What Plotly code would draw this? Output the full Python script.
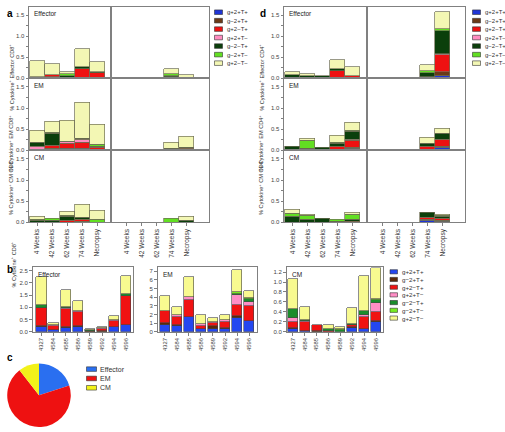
import plotly.graph_objects as go

W, H = 505, 432
FONT = "Liberation Sans, Arial, sans-serif"


def fx(p):
    return p / W


def fy(p):
    return 1 - p / H


TIMEPOINTS = ["4 Weeks", "42 Weeks", "62 Weeks", "74 Weeks", "Necropsy"]
ANIMALS = ["4327", "4584", "4585", "4586", "4589", "4592", "4594", "4596"]
SERIES = ["g+2+T+", "g−2+T+", "g+2−T+", "g+2+T−", "g−2−T+", "g−2+T−", "g+2−T−"]
COLORS_AD = ["#1f35d6", "#6b3a17", "#ee1111", "#ff8cc0", "#0b3f0b", "#62df22", "#f3f7b4"]
COLORS_B = ["#2447f0", "#5a2a0a", "#f01212", "#ff8ec6", "#1b8c2c", "#76ec22", "#f8fa90"]
PIE_LABELS = ["Effector", "EM", "CM"]
PIE_VALUES = [20, 69.5, 10.5]
PIE_COLORS = ["#2a6ff0", "#ee1111", "#f2f21a"]
AD_YTICKS = [0, 0.25, 0.5, 0.75, 1.0, 1.25, 1.5]
AD_YLABELS = [0, 0.5, 1.0, 1.5]

# ---- panel a (CD8), rows = series order, cols = timepoints ----
A_EFF_L = [[0, 0, 0, 0.02, 0.02], [0.01, 0.03, 0, 0, 0], [0.02, 0.05, 0, 0.21, 0.12], [0, 0, 0, 0, 0],
           [0, 0.01, 0.07, 0.04, 0.02], [0, 0, 0.04, 0, 0], [0.39, 0.26, 0.05, 0.43, 0.24]]
A_EFF_R = [[0, 0, 0, 0, 0], [0, 0, 0, 0, 0], [0, 0, 0, 0.03, 0], [0, 0, 0, 0, 0],
           [0, 0, 0, 0.04, 0.01], [0, 0, 0, 0.03, 0], [0, 0, 0, 0.13, 0.08]]
A_EM_L = [[0, 0, 0.04, 0.04, 0], [0.01, 0.04, 0, 0, 0.02], [0.01, 0.07, 0.12, 0.16, 0.04], [0.08, 0, 0.05, 0.07, 0],
          [0.09, 0.29, 0.01, 0.02, 0.03], [0, 0.03, 0, 0, 0.04], [0.29, 0.25, 0.50, 0.84, 0.49]]
A_EM_R = [[0, 0, 0, 0, 0], [0, 0, 0, 0.01, 0.01], [0, 0, 0, 0, 0.04], [0, 0, 0, 0, 0],
          [0, 0, 0, 0.03, 0.03], [0, 0, 0, 0, 0], [0, 0, 0, 0.15, 0.24]]
A_CM_L = [[0, 0, 0, 0, 0], [0.01, 0, 0.01, 0.02, 0], [0, 0, 0.04, 0.04, 0], [0, 0, 0, 0, 0],
          [0.04, 0.04, 0.09, 0.06, 0.01], [0.02, 0.06, 0.02, 0, 0.05], [0.07, 0, 0.10, 0.31, 0.22]]
A_CM_R = [[0, 0, 0, 0, 0], [0, 0, 0, 0, 0], [0, 0, 0, 0, 0], [0, 0, 0, 0, 0],
          [0, 0, 0, 0, 0.05], [0, 0, 0, 0.10, 0], [0, 0, 0, 0, 0.09]]

# ---- panel d (CD4) ----
D_EFF_L = [[0, 0, 0, 0.01, 0], [0, 0, 0, 0, 0], [0.02, 0, 0, 0.17, 0.05], [0, 0, 0, 0, 0],
           [0.06, 0.05, 0.065, 0.05, 0], [0, 0, 0, 0, 0], [0.07, 0.05, 0, 0.22, 0.22]]
D_EFF_R = [[0, 0, 0, 0, 0.07], [0, 0, 0, 0, 0.08], [0, 0, 0, 0.04, 0.42], [0, 0, 0, 0, 0.02],
           [0, 0, 0, 0.08, 0.53], [0, 0, 0, 0.07, 0.05], [0, 0, 0, 0.14, 0.40]]
D_EM_L = [[0, 0, 0, 0.01, 0.05], [0, 0, 0, 0, 0.03], [0, 0, 0, 0.09, 0.15], [0, 0, 0, 0, 0.03],
          [0.09, 0.04, 0.06, 0.07, 0.20], [0, 0.20, 0, 0.02, 0.02], [0, 0.04, 0, 0.17, 0.17]]
D_EM_R = [[0, 0, 0, 0, 0.08], [0, 0, 0, 0.02, 0.02], [0, 0, 0, 0.07, 0.15], [0, 0, 0, 0, 0],
          [0, 0, 0, 0.08, 0.15], [0, 0, 0, 0, 0], [0, 0, 0, 0.13, 0.13]]
D_CM_L = [[0, 0, 0, 0, 0], [0, 0, 0, 0, 0], [0, 0, 0, 0, 0.02], [0, 0, 0, 0, 0],
          [0.14, 0.06, 0.09, 0.02, 0.06], [0.08, 0.11, 0, 0.04, 0.10], [0.08, 0.03, 0, 0, 0.06]]
D_CM_R = [[0, 0, 0, 0.05, 0.03], [0, 0, 0, 0.02, 0.02], [0, 0, 0, 0.05, 0.04], [0, 0, 0, 0, 0],
          [0, 0, 0, 0.11, 0.05], [0, 0, 0, 0, 0.02], [0, 0, 0, 0, 0.04]]

# ---- panel b (per animal, CD8) ----
B_EFF = [[0.20, 0.05, 0.15, 0.20, 0, 0, 0.17, 0.25], [0.03, 0.02, 0.02, 0.02, 0.02, 0.01, 0, 0.02],
         [0.72, 0.15, 0.75, 0.60, 0, 0.10, 0.28, 1.18], [0.02, 0.03, 0.05, 0.01, 0, 0.03, 0.02, 0],
         [0.13, 0, 0.03, 0.02, 0.06, 0, 0, 0.08], [0, 0, 0, 0, 0, 0, 0, 0.03],
         [1.14, 0.09, 0.70, 0.41, 0.02, 0.06, 0.16, 0.73]]
B_EM = [[0.80, 0.70, 1.65, 0.30, 0.30, 0.35, 1.60, 1.25], [0.15, 0.05, 0, 0.05, 0.40, 0.10, 0.20, 0],
        [1.40, 0.95, 2.00, 0.30, 0.30, 0.65, 1.25, 1.70], [0, 0.25, 0.40, 0.20, 0.15, 0.20, 1.15, 0.45],
        [0.05, 0, 0, 0, 0, 0, 0.20, 0.35], [0, 0, 0, 0, 0, 0, 0.15, 0.10],
        [1.74, 0.92, 2.31, 1.10, 0.46, 0.62, 2.65, 0.86]]
B_CM = [[0.05, 0.01, 0, 0, 0, 0.07, 0.05, 0.20], [0.02, 0.01, 0.02, 0, 0, 0.02, 0, 0.02],
        [0.13, 0.17, 0.12, 0.01, 0, 0.05, 0.25, 0.18], [0.07, 0.02, 0, 0, 0, 0, 0.03, 0.18],
        [0.19, 0.03, 0, 0.04, 0.04, 0.02, 0.08, 0.06], [0, 0, 0, 0, 0.02, 0, 0, 0.02],
        [0.59, 0.26, 0, 0.08, 0.03, 0.31, 0.71, 0.62]]

fig = go.Figure()
layout_axes = {}
counter = [0]
LINE = dict(showline=True, linecolor="#808080", linewidth=1, mirror=True,
            zeroline=False, showgrid=False)
TICKFONT = dict(family=FONT, size=6, color="#444")


def new_axes(xpx, ypx, cats, xrange, yrange, xcfg, ycfg):
    counter[0] += 1
    n = counter[0]
    s = "" if n == 1 else str(n)
    layout_axes["xaxis" + s] = dict(domain=[fx(xpx[0]), fx(xpx[1])], range=xrange, anchor="y" + s,
                                    type="category", categoryorder="array", categoryarray=cats,
                                    fixedrange=True, **LINE, **xcfg)
    layout_axes["yaxis" + s] = dict(domain=[fy(ypx[1]), fy(ypx[0])], range=yrange, anchor="x" + s,
                                    fixedrange=True, **LINE, **ycfg)
    return "x" + s, "y" + s


def add_stack(xa, ya, cats, data, colors, width, lcolor, lwidth):
    for name, vals, col in zip(SERIES, data, colors):
        fig.add_trace(go.Bar(x=cats, y=[v if v else None for v in vals], name=name, xaxis=xa, yaxis=ya,
                             width=width, marker=dict(color=col, line=dict(color=lcolor, width=lwidth)),
                             showlegend=False))


NOX = dict(showticklabels=False, ticks="")
BOTX = dict(ticks="outside", ticklen=3, tickcolor="#808080", tickangle=-90,
            tickfont=dict(family=FONT, size=6.5, color="#333"))
YAD = dict(ticks="outside", ticklen=2.5, tickcolor="#808080", tickvals=AD_YTICKS, showticklabels=False)
NOY = dict(showticklabels=False, ticks="")

ROWS_PX = [(7, 79), (79, 151.5), (151.5, 224)]
ROW_NAMES = ["Effector", "EM", "CM"]
annotations = []
shapes = []


def ad_panel(left, mid, right, data_rows, cell, first_center):
    for r, ((y0, y1), (dl, dr)) in enumerate(zip(ROWS_PX, data_rows)):
        xc = BOTX if r == 2 else NOX
        x_start = (left - first_center) / cell
        xr1 = [x_start, x_start + (mid - left) / cell]
        xa, ya = new_axes((left, mid), (y0, y1), TIMEPOINTS, xr1, [0, 1.7], xc, YAD)
        add_stack(xa, ya, TIMEPOINTS, dl, COLORS_AD, 1.0, "#6f6f55", 0.7)
        # y tick labels placed on the axis scale
        for v in AD_YLABELS:
            annotations.append(dict(x=fx(left - 3.5), y=v, xref="paper", yref=ya, text=f"{v:.1f}",
                                    showarrow=False, xanchor="right", yanchor="middle", borderpad=0,
                                    font=TICKFONT))
        xr2 = [-1.05, -1.05 + (right - mid) / cell]
        xa, ya = new_axes((mid, right), (y0, y1), TIMEPOINTS, xr2, [0, 1.7], xc, NOY)
        add_stack(xa, ya, TIMEPOINTS, dr, COLORS_AD, 1.0, "#6f6f55", 0.7)
        annotations.append(dict(x=fx(left + 3), y=fy(y0 + 1.5), xref="paper", yref="paper", text=ROW_NAMES[r],
                                showarrow=False, xanchor="left", yanchor="top",
                                font=dict(family=FONT, size=6.5, color="#222")))


ad_panel(29, 111, 209, [(A_EFF_L, A_EFF_R), (A_EM_L, A_EM_R), (A_CM_L, A_CM_R)], 15, 37)
ad_panel(284, 367, 465, [(D_EFF_L, D_EFF_R), (D_EM_L, D_EM_R), (D_CM_L, D_CM_R)], 15, 292.5)

# y titles a / d
for (y0, y1), nm in zip(ROWS_PX, ROW_NAMES):
    for xpos, cd in ((15, "CD8"), (265, "CD4")):
        annotations.append(dict(x=fx(xpos), y=fy((y0 + y1) / 2), xref="paper", yref="paper",
                                text=f"% Cytokine<sup>+</sup> {nm} {cd}<sup>+</sup>", textangle=-90,
                                xanchor="right", showarrow=False, borderpad=0,
                                font=dict(family=FONT, size=5.6, color="#333")))

# ---- panel b ----
BX = dict(ticks="outside", ticklen=3, tickcolor="#808080", tickangle=-90,
          tickfont=dict(family=FONT, size=5.8, color="#333"))
xa, ya = new_axes((33, 133), (269, 334), ANIMALS, [-0.7, 7.55], [0, 2.65], BX,
                  dict(ticks="outside", ticklen=3, tickcolor="#808080", tickvals=[0, 0.5, 1, 1.5, 2, 2.5],
                       ticktext=["0.0", "0.5", "1.0", "1.5", "2.0", "2.5"], tickfont=TICKFONT))
add_stack(xa, ya, ANIMALS, B_EFF, COLORS_B, 0.85, "#444", 0.6)
xa, ya = new_axes((158, 257), (269, 334), ANIMALS, [-0.56, 7.65], [0, 7.49], BX,
                  dict(ticks="outside", ticklen=3, tickcolor="#808080", dtick=1, tickfont=TICKFONT))
add_stack(xa, ya, ANIMALS, B_EM, COLORS_B, 0.85, "#444", 0.6)
xa, ya = new_axes((287, 383), (269, 334), ANIMALS, [-0.48, 7.57], [0, 1.3], BX,
                  dict(ticks="outside", ticklen=3, tickcolor="#808080", tickvals=[0, 0.2, 0.4, 0.6, 0.8, 1.0, 1.2],
                       ticktext=["0.0", "0.2", "0.4", "0.6", "0.8", "1.0", "1.2"], tickfont=TICKFONT))
add_stack(xa, ya, ANIMALS, B_CM, COLORS_B, 0.85, "#444", 0.6)
for xl, nm in ((36, "Effector"), (161, "EM"), (290, "CM")):
    annotations.append(dict(x=fx(xl), y=fy(270.5), xref="paper", yref="paper", text=nm, showarrow=False,
                            xanchor="left", yanchor="top", font=dict(family=FONT, size=6.5, color="#222")))
annotations.append(dict(x=fx(18), y=fy(290), xref="paper", yref="paper",
                        text="% Cytokine<sup>+</sup> CD8<sup>+</sup>", textangle=-90, showarrow=False,
                        xanchor="right", borderpad=0, font=dict(family=FONT, size=5.6, color="#333")))

# ---- panel c pie ----
fig.add_trace(go.Pie(labels=PIE_LABELS, values=PIE_VALUES, marker=dict(colors=PIE_COLORS, line=dict(width=0)),
                     sort=False, direction="clockwise", rotation=0, textinfo="none", showlegend=False,
                     hoverinfo="label+percent", domain=dict(x=[fx(7), fx(71)], y=[fy(430), fy(366)])))


# ---- manual legends ----
def legend(names, colors, x0, x1, xt, ys, h, fsize):
    for nm, col, yc in zip(names, colors, ys):
        shapes.append(dict(type="rect", xref="paper", yref="paper", x0=fx(x0), x1=fx(x1),
                           y0=fy(yc + h / 2), y1=fy(yc - h / 2), fillcolor=col,
                           line=dict(color="#333", width=0.6)))
        annotations.append(dict(x=fx(xt), y=fy(yc), xref="paper", yref="paper", text=nm, showarrow=False,
                                xanchor="left", yanchor="middle", font=dict(family=FONT, size=fsize, color="#333")))


LEG_Y = [12.3, 20.8, 29.3, 37.8, 46.4, 55.0, 63.6]
legend(SERIES, COLORS_AD, 214.5, 222.5, 225, LEG_Y, 4.6, 6)
legend(SERIES, COLORS_AD, 472.5, 480.5, 483, LEG_Y, 4.6, 6)
legend(SERIES, COLORS_B, 390, 397.5, 399.5, [273.7, 281.4, 289.2, 296.9, 304.7, 312.5, 320.3], 4.2, 6.2)
legend(PIE_LABELS, PIE_COLORS, 86.5, 96.5, 98, [371.7, 381.1, 390.5], 4.6, 7)

# panel letters
for lt, xl, yl in (("a", 5, 6), ("d", 263, 6), ("b", 5, 271), ("c", 5, 368)):
    annotations.append(dict(x=fx(xl), y=fy(yl), xref="paper", yref="paper", text=f"<b>{lt}</b>",
                            showarrow=False, font=dict(family=FONT, size=10, color="#000")))

fig.update_layout(width=W, height=H, margin=dict(l=0, r=0, t=0, b=0, pad=0), barmode="stack",
                  paper_bgcolor="white", plot_bgcolor="white", bargap=0, showlegend=False,
                  annotations=annotations, shapes=shapes, **layout_axes)
fig.write_html("out.html", config={"displayModeBar": False},
               post_script="document.body.style.margin='0';document.body.style.padding='0';")
